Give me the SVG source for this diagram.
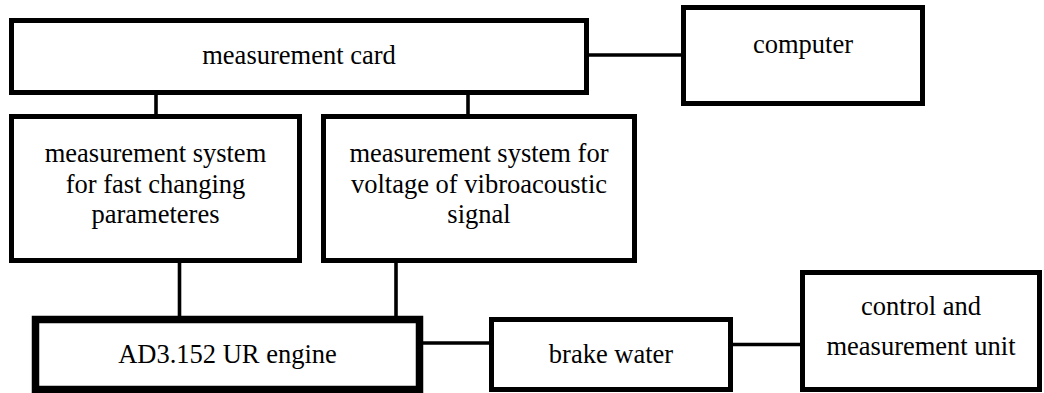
<svg xmlns="http://www.w3.org/2000/svg" width="1044" height="393" viewBox="0 0 1044 393">
<style>
.box{fill:#fff;stroke:#000;stroke-width:5}
.thick{stroke-width:7.5}
.lbl{font-family:'Liberation Serif','Times New Roman',serif;font-size:26.5px;fill:#000;text-anchor:middle}
.conn line{stroke:#000;stroke-width:3.6}
</style>
<rect width="1044" height="393" fill="#fff"/>
<g class="conn" id="connectors">
<line x1="586" y1="55" x2="684" y2="55"/>
<line x1="156" y1="92" x2="156" y2="117"/>
<line x1="468" y1="92" x2="468" y2="117"/>
<line x1="179.5" y1="260" x2="179.5" y2="320"/>
<line x1="396" y1="260" x2="396" y2="320"/>
<line x1="419" y1="343" x2="492" y2="343"/>
<line x1="730" y1="344.5" x2="803" y2="344.5"/>
</g>
<g id="card">
<rect class="box" x="11.5" y="20.5" width="575" height="72"/>
<text class="lbl" x="299" y="64">measurement card</text>
</g>
<g id="computer">
<rect class="box" x="683.5" y="7.5" width="239" height="96"/>
<text class="lbl" x="803" y="53">computer</text>
</g>
<g id="sys1">
<rect class="box" x="11.5" y="116.5" width="288" height="144"/>
<text class="lbl" x="155.5" y="162">measurement system</text>
<text class="lbl" x="155.5" y="193">for fast changing</text>
<text class="lbl" x="155.5" y="223">parameteres</text>
</g>
<g id="sys2">
<rect class="box" x="323.5" y="116.5" width="311" height="144"/>
<text class="lbl" x="479" y="162">measurement system for</text>
<text class="lbl" x="479" y="193">voltage of vibroacoustic</text>
<text class="lbl" x="479" y="223">signal</text>
</g>
<g id="engine">
<rect class="box thick" x="35.5" y="319.5" width="384" height="70"/>
<text class="lbl" x="227.5" y="363">AD3.152 UR engine</text>
</g>
<g id="brake">
<rect class="box" x="491.5" y="319.5" width="239" height="70"/>
<text class="lbl" x="611" y="363">brake water</text>
</g>
<g id="control">
<rect class="box" x="802.5" y="272.5" width="237" height="117"/>
<text class="lbl" x="921" y="315">control and</text>
<text class="lbl" x="921" y="355">measurement unit</text>
</g>
</svg>
